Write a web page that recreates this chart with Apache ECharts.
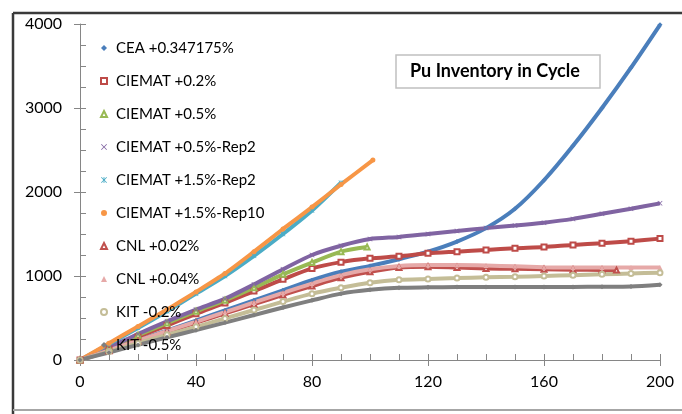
<!DOCTYPE html>
<html>
<head>
<meta charset="utf-8">
<script src="https://cdn.jsdelivr.net/npm/echarts@6/dist/echarts.min.js"></script>
<style>
  html, body { margin: 0; padding: 0; background: #fff; }
  #main { width: 682px; height: 414px; }
</style>
</head>
<body>
<div id="main"></div>
<script>
// cycle grid, every 10 cycles
const cycles = [0, 10, 20, 30, 40, 50, 60, 70, 80, 90, 100, 110, 120, 130, 140, 150, 160, 170, 180, 190, 200];
const cycles05 = [0, 10, 20, 30, 40, 50, 60, 70, 80, 90, 99];
const cycles15Rep2 = [0, 10, 20, 30, 40, 50, 60, 70, 80, 90];
const cycles15Rep10 = [0, 10, 20, 30, 40, 50, 60, 70, 80, 90, 101];
const cyclesCnl002 = [0, 10, 20, 30, 40, 50, 60, 70, 80, 90, 100, 110, 120, 130, 140, 150, 160, 170, 180, 185];

// Pu inventory values
const cea = [0, 115, 235, 350, 470, 590, 710, 830, 950, 1050, 1120, 1200, 1290, 1410, 1570, 1800, 2140, 2550, 3000, 3480, 3990];
const ciemat02 = [0, 135, 275, 410, 550, 680, 820, 960, 1090, 1165, 1210, 1235, 1270, 1290, 1310, 1330, 1345, 1370, 1390, 1415, 1445];
const ciemat05 = [0, 145, 295, 440, 580, 710, 860, 1020, 1160, 1290, 1345];
const ciemat05Rep2 = [0, 150, 310, 460, 600, 730, 900, 1080, 1250, 1360, 1440, 1465, 1500, 1535, 1570, 1600, 1635, 1680, 1740, 1800, 1865];
const ciemat15Rep2 = [0, 190, 380, 580, 790, 1000, 1240, 1500, 1780, 2110];
const ciemat15Rep10 = [0, 200, 400, 600, 810, 1030, 1290, 1560, 1820, 2090, 2380];
const cnl002 = [0, 110, 225, 335, 445, 555, 665, 775, 880, 980, 1050, 1100, 1110, 1100, 1090, 1085, 1080, 1075, 1072, 1070];
const cnl004 = [0, 115, 230, 345, 455, 570, 685, 800, 910, 1010, 1080, 1120, 1130, 1130, 1125, 1115, 1105, 1100, 1100, 1100, 1100];
const kit02 = [0, 100, 200, 300, 395, 495, 595, 695, 790, 860, 920, 955, 965, 975, 985, 990, 1000, 1010, 1020, 1030, 1040];
const kit05 = [0, 90, 180, 270, 355, 445, 535, 625, 710, 790, 835, 860, 865, 868, 870, 870, 870, 870, 872, 875, 895];

const xMark = 'path://M1,0L5,4L9,0L10,1L6,5L10,9L9,10L5,6L1,10L0,9L4,5L0,1Z';
const starMark = 'path://M1,0L5,4L9,0L10,1L6,5L10,9L9,10L5,6L1,10L0,9L4,5L0,1Z M4.3,0H5.7V10H4.3Z';

const seriesDefs = [
  { name: 'CEA +0.347175%', xs: cycles, ys: cea, color: '#4a7ebb', symbol: 'diamond' },
  { name: 'CIEMAT +0.2%', xs: cycles, ys: ciemat02, color: '#be4b48', symbol: 'emptyRect' },
  { name: 'CIEMAT +0.5%', xs: cycles05, ys: ciemat05, color: '#98b954', symbol: 'emptyTriangle' },
  { name: 'CIEMAT +0.5%-Rep2', xs: cycles, ys: ciemat05Rep2, color: '#8064a2', symbol: xMark },
  { name: 'CIEMAT +1.5%-Rep2', xs: cycles15Rep2, ys: ciemat15Rep2, color: '#4bacc6', symbol: starMark },
  { name: 'CIEMAT +1.5%-Rep10', xs: cycles15Rep10, ys: ciemat15Rep10, color: '#f79646', symbol: 'circle' },
  { name: 'CNL +0.02%', xs: cyclesCnl002, ys: cnl002, color: '#c0504d', symbol: 'emptyTriangle' },
  { name: 'CNL +0.04%', xs: cycles, ys: cnl004, color: '#e6a9a8', symbol: 'triangle' },
  { name: 'KIT -0.2%', xs: cycles, ys: kit02, color: '#c4bd97', symbol: 'emptyCircle' },
  { name: 'KIT -0.5%', xs: cycles, ys: kit05, color: '#7f7f7f', symbol: 'diamond' }
];

let chart = echarts.init(document.getElementById('main'), null, { renderer: 'canvas' });

const font = 'Lato, "Open Sans", sans-serif';
const axisGray = '#868686';

function makeXAxis(primary) {
  return {
    type: 'value', position: 'bottom', min: 0, max: 200, interval: 40,
    axisLine: { show: primary, onZero: false, lineStyle: { color: axisGray, width: 1 } },
    axisTick: { show: true, inside: primary, length: 6, lineStyle: { color: axisGray } },
    minorTick: { show: primary, splitNumber: 4, length: 6, lineStyle: { color: axisGray } },
    splitLine: { show: false },
    minorSplitLine: { show: false },
    axisLabel: { show: primary, margin: 14, fontFamily: font, fontSize: 16, color: '#000' }
  };
}
function makeYAxis(primary) {
  return {
    type: 'value', position: 'left', min: 0, max: 4000, interval: 1000,
    axisLine: { show: primary, onZero: false, lineStyle: { color: axisGray, width: 1 } },
    axisTick: { show: true, inside: primary, length: 6, lineStyle: { color: axisGray } },
    minorTick: { show: primary, splitNumber: 4, length: 6, lineStyle: { color: axisGray } },
    splitLine: { show: false },
    minorSplitLine: { show: false },
    axisLabel: { show: primary, margin: 18, fontFamily: font, fontSize: 16, color: '#000', formatter: v => String(v) }
  };
}

const option = {
  backgroundColor: '#fff',
  animation: false,
  title: {
    text: 'Pu Inventory in Cycle',
    left: 396, top: 55,
    padding: [7, 20, 7, 14],
    borderColor: '#c0c0c0', borderWidth: 1.5,
    textStyle: { fontFamily: font, fontWeight: 'bold', fontSize: 18, lineHeight: 19, color: '#000' }
  },
  grid: { left: 80, right: 22, top: 24, bottom: 54 },
  xAxis: [makeXAxis(true), makeXAxis(false)],
  yAxis: [makeYAxis(true), makeYAxis(false)],
  legend: {
    orient: 'vertical',
    left: 95, top: 35,
    itemWidth: 6, itemHeight: 6,
    itemGap: 17,
    textStyle: { fontFamily: font, fontSize: 15, lineHeight: 16, color: '#000', padding: [0, 0, 0, 4] },
    data: seriesDefs.map(d => ({ name: d.name, icon: d.symbol }))
  },
  graphic: [
    { type: 'line', shape: { x1: 13, y1: 13, x2: 682, y2: 13 }, style: { stroke: '#3a3a3a', lineWidth: 2.5 }, z: 100 },
    { type: 'line', shape: { x1: 13, y1: 13, x2: 13, y2: 414 }, style: { stroke: '#3a3a3a', lineWidth: 2.5 }, z: 100 },
    { type: 'line', shape: { x1: 13, y1: 410, x2: 682, y2: 410 }, style: { stroke: '#a6a6a6', lineWidth: 2 }, z: 100 }
  ],
  series: seriesDefs.map(d => ({
    name: d.name,
    type: 'line',
    xAxisIndex: 0, yAxisIndex: 0,
    data: d.xs.map((x, i) => [x, d.ys[i]]),
    smooth: 0.25,
    symbol: d.symbol,
    symbolSize: 5,
    showSymbol: true,
    color: d.color,
    lineStyle: { color: d.color, width: 4 },
    itemStyle: { color: d.color }
  }))
};

chart.setOption(option);
</script>
</body>
</html>
